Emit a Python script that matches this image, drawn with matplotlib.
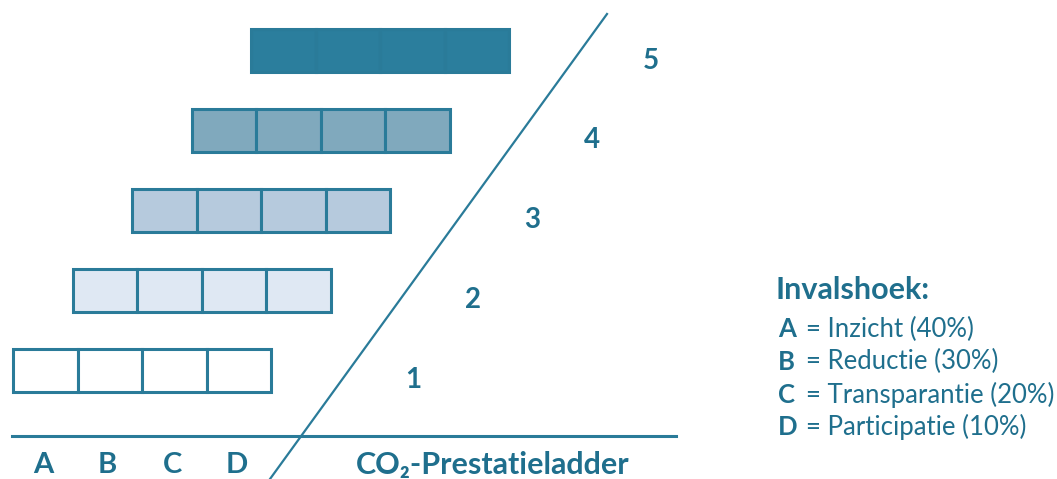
import matplotlib.pyplot as plt
from matplotlib.patches import Rectangle

# CO2-Prestatieladder: 5 treden, elk met 4 invalshoeken
levels = [1, 2, 3, 4, 5]
level_fill = ['#ffffff', '#dfe8f3', '#b6cadd', '#80a9bd', '#2b7e9d']
categories = ['A', 'B', 'C', 'D']
cat_names = ['Inzicht', 'Reductie', 'Transparantie', 'Participatie']
cat_weight = [40, 30, 20, 10]

teal = '#1f6f8d'
edge = '#2a7b99'

plt.rcParams['font.family'] = ['Lato', 'DejaVu Sans']

fig = plt.figure(figsize=(10.57, 4.79), dpi=100)
ax = fig.add_axes([0, 0, 1, 1])
ax.set_xlim(0, 1057)
ax.set_ylim(479, 0)
ax.axis('off')

# layout (pixels)
cell_w = 64.5
row_h = 43
x0, y0 = 13, 349       # bottom-left row (level 1)
step_x, step_y = 59.5, -80

for i, (lvl, fc) in enumerate(zip(levels, level_fill)):
    left = x0 + i * step_x
    top = y0 + i * step_y
    for j, cat in enumerate(categories):
        ax.add_patch(Rectangle((left + j * cell_w, top), cell_w, row_h,
                               facecolor=fc, edgecolor=edge, linewidth=2.2))
    ax.text(left + 4 * cell_w + 142, top + row_h / 2 + 10, str(lvl),
            ha='center', va='center', fontsize=20, fontweight='bold', color=teal)

# baseline and diagonal
ax.plot([12, 676], [436, 436], color=edge, linewidth=2.2)
ax.plot([270, 607], [479, 14], color=edge, linewidth=1.6)

# category letters under the ladder
for j, cat in enumerate(categories):
    ax.text(x0 + (j + 0.5) * cell_w - 2, 465, cat, ha='center', va='center',
            fontsize=21, fontweight='bold', color=teal)
ax.text(356, 465, 'CO₂-Prestatieladder', ha='left', va='center',
        fontsize=22, fontweight='bold', color=teal)

# legend
ax.text(776, 290, 'Invalshoek:', ha='left', va='center',
        fontsize=22, fontweight='bold', color=teal)
for k, (cat, name, w) in enumerate(zip(categories, cat_names, cat_weight)):
    y = 329 + k * 32.8
    ax.text(778, y, cat, ha='left', va='center', fontsize=18.5,
            fontweight='bold', color=teal)
    ax.text(806, y, f'= {name} ({w}%)', ha='left', va='center',
            fontsize=18.5, color=teal)

fig.savefig('out.png', dpi=100, facecolor='white')
